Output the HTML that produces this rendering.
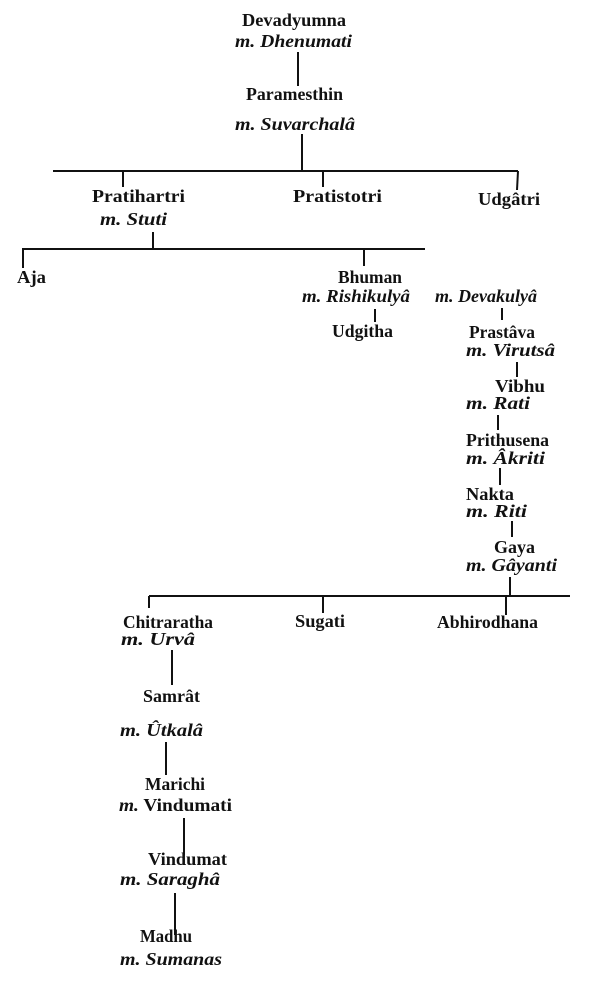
<!DOCTYPE html>
<html><head><meta charset="utf-8"><style>
html,body{margin:0;padding:0;background:#fff;}
svg{display:block}
text{font-family:"Liberation Serif",serif;font-weight:bold;font-size:17.5px;fill:#111}
.i{font-style:italic}
line{stroke:#111;stroke-width:2}
</style></head><body>
<svg width="600" height="987" viewBox="0 0 600 987" xmlns="http://www.w3.org/2000/svg">
<g>
<text x="242" y="26" textLength="104" lengthAdjust="spacingAndGlyphs">Devadyumna</text>
<text class="i" x="235" y="47" textLength="117" lengthAdjust="spacingAndGlyphs">m. Dhenumati</text>
<text x="246" y="100" textLength="97" lengthAdjust="spacingAndGlyphs">Paramesthin</text>
<text class="i" x="235" y="130" textLength="120" lengthAdjust="spacingAndGlyphs">m. Suvarchalâ</text>
<text x="92" y="202" textLength="93" lengthAdjust="spacingAndGlyphs">Pratihartri</text>
<text x="293" y="202" textLength="89" lengthAdjust="spacingAndGlyphs">Pratistotri</text>
<text x="478" y="205" textLength="62" lengthAdjust="spacingAndGlyphs">Udgâtri</text>
<text class="i" x="100" y="225" textLength="67" lengthAdjust="spacingAndGlyphs">m. Stuti</text>
<text x="17" y="283" textLength="29" lengthAdjust="spacingAndGlyphs">Aja</text>
<text x="338" y="283" textLength="64" lengthAdjust="spacingAndGlyphs">Bhuman</text>
<text class="i" x="302" y="302" textLength="108" lengthAdjust="spacingAndGlyphs">m. Rishikulyâ</text>
<text class="i" x="435" y="302" textLength="102" lengthAdjust="spacingAndGlyphs">m. Devakulyâ</text>
<text x="332" y="337" textLength="61" lengthAdjust="spacingAndGlyphs">Udgitha</text>
<text x="469" y="338" textLength="66" lengthAdjust="spacingAndGlyphs">Prastâva</text>
<text class="i" x="466" y="356" textLength="89" lengthAdjust="spacingAndGlyphs">m. Virutsâ</text>
<text x="495" y="392" textLength="50" lengthAdjust="spacingAndGlyphs">Vibhu</text>
<text class="i" x="466" y="409" textLength="64" lengthAdjust="spacingAndGlyphs">m. Rati</text>
<text x="466" y="446" textLength="83" lengthAdjust="spacingAndGlyphs">Prithusena</text>
<text class="i" x="466" y="464" textLength="79" lengthAdjust="spacingAndGlyphs">m. Âkriti</text>
<text x="466" y="500" textLength="48" lengthAdjust="spacingAndGlyphs">Nakta</text>
<text class="i" x="466" y="517" textLength="61" lengthAdjust="spacingAndGlyphs">m. Riti</text>
<text x="494" y="553" textLength="41" lengthAdjust="spacingAndGlyphs">Gaya</text>
<text class="i" x="466" y="571" textLength="91" lengthAdjust="spacingAndGlyphs">m. Gâyanti</text>
<text x="123" y="628" textLength="90" lengthAdjust="spacingAndGlyphs">Chitraratha</text>
<text x="295" y="627" textLength="50" lengthAdjust="spacingAndGlyphs">Sugati</text>
<text x="437" y="628" textLength="101" lengthAdjust="spacingAndGlyphs">Abhirodhana</text>
<text class="i" x="121" y="645" textLength="74" lengthAdjust="spacingAndGlyphs">m. Urvâ</text>
<text x="143" y="702" textLength="57" lengthAdjust="spacingAndGlyphs">Samrât</text>
<text class="i" x="120" y="736" textLength="83" lengthAdjust="spacingAndGlyphs">m. Ûtkalâ</text>
<text x="145" y="790" textLength="60" lengthAdjust="spacingAndGlyphs">Marichi</text>
<text x="119" y="811" textLength="113" lengthAdjust="spacingAndGlyphs"><tspan class="i">m.</tspan> Vindumati</text>
<text x="148" y="865" textLength="79" lengthAdjust="spacingAndGlyphs">Vindumat</text>
<text class="i" x="120" y="885" textLength="100" lengthAdjust="spacingAndGlyphs">m. Saraghâ</text>
<text x="140" y="942" textLength="52" lengthAdjust="spacingAndGlyphs">Madhu</text>
<text class="i" x="120" y="965" textLength="102" lengthAdjust="spacingAndGlyphs">m. Sumanas</text>
</g>
<g>
<line x1="298" y1="52" x2="298" y2="86"/>
<line x1="302" y1="134" x2="302" y2="171"/>
<line x1="53" y1="171" x2="518" y2="171"/>
<line x1="123" y1="172" x2="123" y2="187"/>
<line x1="323" y1="172" x2="323" y2="187"/>
<line x1="518" y1="171" x2="517" y2="190"/>
<line x1="153" y1="232" x2="153" y2="249"/>
<line x1="22" y1="249" x2="425" y2="249"/>
<line x1="23" y1="249" x2="23" y2="268"/>
<line x1="364" y1="250" x2="364" y2="266"/>
<line x1="375" y1="309" x2="375" y2="322"/>
<line x1="502" y1="308" x2="502" y2="320"/>
<line x1="517" y1="362" x2="517" y2="377"/>
<line x1="498" y1="415" x2="498" y2="430"/>
<line x1="500" y1="468" x2="500" y2="485"/>
<line x1="512" y1="521" x2="512" y2="537"/>
<line x1="510" y1="577" x2="510" y2="596"/>
<line x1="149" y1="596" x2="570" y2="596"/>
<line x1="149" y1="596" x2="149" y2="608"/>
<line x1="323" y1="597" x2="323" y2="613"/>
<line x1="506" y1="597" x2="506" y2="615"/>
<line x1="172" y1="650" x2="172" y2="685"/>
<line x1="166" y1="742" x2="166" y2="775"/>
<line x1="184" y1="818" x2="184" y2="855"/>
<line x1="175" y1="893" x2="175" y2="935"/>
</g>
</svg>
</body></html>
